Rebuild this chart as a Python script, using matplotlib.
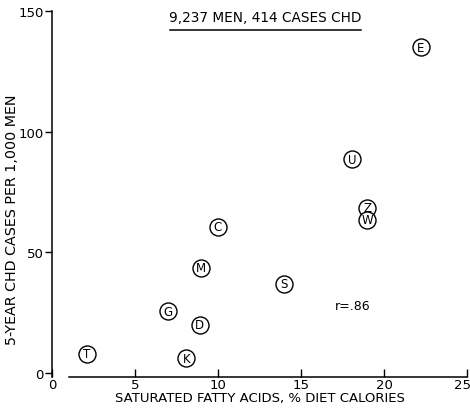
import matplotlib
matplotlib.use("Agg")
import matplotlib.pyplot as plt
from matplotlib.lines import Line2D
import matplotlib.transforms as mtransforms

labels = ["E", "U", "Z", "W", "S", "C", "M", "G", "D", "K", "T"]
fat_pct = [22.2, 18.1, 19.0, 19.0, 14.0, 10.0, 9.0, 7.0, 8.9, 8.1, 2.1]
chd_rate = [135, 88.5, 68.5, 63.5, 37, 60.5, 43.5, 25.5, 20, 6, 8]
xticks = [0, 5, 10, 15, 20, 25]
yticks = [0, 50, 100, 150]

plt.rcParams['font.family'] = ['DejaVu Sans']
fig = plt.figure(figsize=(4.7, 4.1), dpi=100)
ax = fig.add_axes([52/470, 1-378/410, 415/470, 366/410])
ax.set_xlim(0, 25)
ax.set_ylim(-1.7, 150)

ax.scatter(fat_pct, chd_rate, s=150, facecolor="white", edgecolor="black", linewidth=1.0, zorder=3)
for lab, x, y in zip(labels, fat_pct, chd_rate):
    ax.text(x, y, lab, ha="center", va="center", fontsize=8.5, zorder=4)

for s in ["top", "right"]:
    ax.spines[s].set_visible(False)
ax.spines["bottom"].set_bounds(1, 25)
ax.spines["left"].set_bounds(-1.7, 150)
for s in ["bottom", "left"]:
    ax.spines[s].set_linewidth(1.1)

ax.set_xticks(xticks)
ax.set_yticks(yticks)
ax.tick_params(axis="x", direction="in", length=6, width=1, labelsize=9.5, pad=1)
ax.tick_params(axis="y", direction="out", length=5, width=1, labelsize=9.5, pad=1)

# nudge last x tick label inward so it stays inside the figure
lbls = ax.get_xticklabels()
lbls[-1].set_transform(lbls[-1].get_transform() + mtransforms.ScaledTranslation(-5/100, 0, fig.dpi_scale_trans))

ax.set_xlabel("SATURATED FATTY ACIDS, % DIET CALORIES", fontsize=9.5, labelpad=0)
ax.set_ylabel("5-YEAR CHD CASES PER 1,000 MEN", fontsize=10.3, labelpad=4)
ax.yaxis.set_label_coords(-0.08, (378-220)/366)

ax.text(18.1, 28, "r=.86", ha="center", va="center", fontsize=9)
fig.text(265/470, 1-18/410, "9,237 MEN, 414 CASES CHD", ha="center", va="center", fontsize=9.8)
fig.add_artist(Line2D([170/470, 361/470], [1-31/410, 1-31/410], color="black", linewidth=1.1))

fig.savefig("out.png", dpi=100)
